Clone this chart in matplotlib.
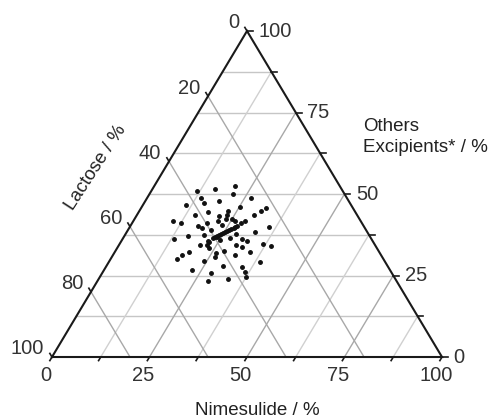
import numpy as np
import matplotlib
matplotlib.use("Agg")
import matplotlib.pyplot as plt

# compositions (%)
nimesulide = [16.0, 20.6, 11.7, 21.4, 13.8, 26.6, 10.9, 15.4, 18.8, 25.2,
              32.0, 31.2, 30.0, 17.8, 14.7, 21.2, 22.9, 23.1, 23.5, 25.0,
              10.1, 12.4, 19.1, 17.4, 18.5, 21.7, 23.4, 26.1, 27.9, 28.7,
              35.7, 32.9, 16.2, 13.3, 20.2, 21.2, 23.8, 28.4, 30.5, 32.2,
              27.4, 25.2, 22.5, 20.7, 29.9, 31.9, 36.9, 39.1, 28.0, 26.0,
              34.6, 19.0, 17.8, 16.9, 24.1, 26.5, 31.3, 38.8, 22.4, 27.8,
              30.0, 35.0, 36.5, 37.6, 28.5, 33.3,
              22.9, 23.3, 23.6, 24.0, 24.4, 24.8, 25.2, 25.6, 25.9, 26.3,
              26.7, 27.0, 27.2, 22.2, 22.4, 23.5]
others = [51.6, 52.4, 50.8, 49.9, 48.9, 48.8, 46.7, 47.2, 47.8, 46.0,
          45.7, 44.7, 43.7, 44.5, 43.7, 43.3, 44.7, 43.7, 42.2, 42.2,
          41.7, 41.2, 41.2, 40.2, 39.7, 41.6, 40.6, 41.6, 41.2, 41.6,
          39.9, 38.3, 37.1, 36.1, 37.5, 38.9, 36.8, 37.8, 36.3, 35.5,
          36.5, 35.8, 35.3, 34.5, 34.5, 33.7, 34.6, 34.1, 32.4, 32.0,
          32.2, 32.2, 31.2, 30.2, 29.5, 30.7, 31.2, 29.1, 26.8, 25.8,
          27.8, 27.6, 26.1, 24.5, 23.2, 23.8,
          36.6, 36.9, 37.2, 37.5, 37.8, 38.1, 38.3, 38.7, 39.1, 39.4,
          39.7, 40.0, 40.3, 35.5, 34.5, 33.5]
lactose = [100 - n - o for n, o in zip(nimesulide, others)]

bottom_ticks = [0, 25, 50, 75, 100]
right_ticks = [0, 25, 50, 75, 100]
left_ticks = [0, 20, 40, 60, 80, 100]


def to_xy(n, l, o):
    n = np.asarray(n, dtype=float)
    l = np.asarray(l, dtype=float)
    o = np.asarray(o, dtype=float)
    s = n + l + o
    n = 100.0 * n / s
    o = 100.0 * o / s
    return n + o / 2.0, o


fontSize = 14.5
plt.rcParams["font.family"] = ["Liberation Sans", "DejaVu Sans"]

fig = plt.figure(figsize=(4.88, 4.18), dpi=100)
ax = fig.add_axes([0, 0, 1, 1])
ax.set_xlim(-13.33, 111.79)
ax.set_ylim(-18.71, 109.51)
ax.axis("off")

# grid: constant others (horizontal)
for o in np.arange(12.5, 100, 12.5):
    x0, y0 = to_xy(0, 100 - o, o)
    x1, y1 = to_xy(100 - o, 0, o)
    ax.plot([x0, x1], [y0, y1], color="#c6c6c6", lw=1.0, zorder=1)

# grid: constant nimesulide
for n in np.arange(12.5, 100, 12.5):
    x0, y0 = to_xy(n, 100 - n, 0)
    x1, y1 = to_xy(n, 0, 100 - n)
    c = "#a8a8a8" if n % 25 == 0 else "#d0d0d0"
    ax.plot([x0, x1], [y0, y1], color=c, lw=1.0, zorder=1)

# grid: constant lactose
for l in [20, 40, 60, 80]:
    x0, y0 = to_xy(0, l, 100 - l)
    x1, y1 = to_xy(100 - l, l, 0)
    ax.plot([x0, x1], [y0, y1], color="#a8a8a8", lw=1.0, zorder=1)

# triangle
tx, ty = to_xy([0, 100, 0, 0], [100, 0, 0, 100], [0, 0, 100, 0])
ax.plot(tx, ty, color="#1a1a1a", lw=1.5, zorder=3, solid_joinstyle="miter")

# ticks bottom
for n in np.arange(0, 100.1, 12.5):
    x, y = to_xy(n, 100 - n, 0)
    ax.plot([x, x - 0.55], [y, y - 1.1], color="#1a1a1a", lw=1.2, zorder=3)
for n in bottom_ticks:
    x, y = to_xy(n, 100 - n, 0)
    ax.text(x - 1.6, y - 5.8, str(n), ha="center", va="center", fontsize=fontSize, color="#333333")

# ticks right
for o in np.arange(0, 100.1, 12.5):
    x, y = to_xy(100 - o, 0, o)
    ax.plot([x, x + 1.5], [y, y], color="#1a1a1a", lw=1.2, zorder=3)
for o in right_ticks:
    x, y = to_xy(100 - o, 0, o)
    ax.text(x + 3.0, y, str(o), ha="left", va="center", fontsize=fontSize, color="#333333")

# ticks left
for l in left_ticks:
    x, y = to_xy(0, l, 100 - l)
    ax.plot([x, x - 0.55], [y, y + 1.1], color="#1a1a1a", lw=1.2, zorder=3)
    ax.text(x - 2.0, y - 0.4, str(l), ha="right", va="bottom", fontsize=fontSize, color="#333333")

# data
px, py = to_xy(nimesulide, lactose, others)
ax.plot(px, py, linestyle="none", marker="o", markersize=2.5, color="#111111", zorder=4)

# axis titles
ax.text(52.6, -16.3, "Nimesulide / %", ha="center", va="center", fontsize=13.5, color="#222222")
ax.text(79.7, 67.5, "Others\nExcipients* / %", ha="left", va="center", fontsize=13.5,
        color="#222222", linespacing=1.25)
ax.text(11.3, 58.0, "Lactose / %", ha="center", va="center", fontsize=13.5, color="#222222",
        rotation=57)

fig.savefig("out.png", dpi=100)
